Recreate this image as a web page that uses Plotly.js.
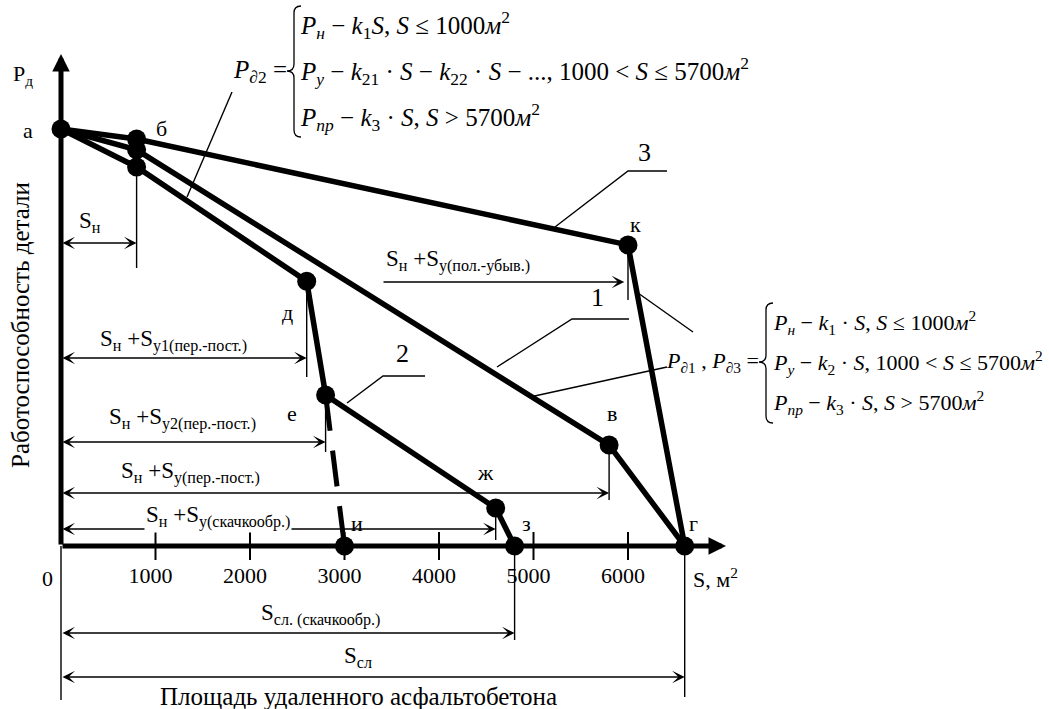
<!DOCTYPE html>
<html><head><meta charset="utf-8">
<script src="https://cdn.plot.ly/plotly-3.0.1.min.js"></script>
<style>html,body{margin:0;padding:0;background:#fff}#chart{width:1049px;height:709px}</style>
</head><body><div id="chart"></div>
<script>
// ---------- data (S in m², P in % of initial workability) ----------
const sTicks = [1000, 2000, 3000, 4000, 5000, 6000];
const line1S = [0, 800, 5800, 6600];
const line1P = [100, 95.0, 24.2, 0];
const line2S = [0, 800, 2600, 2800, 4600, 4800];
const line2P = [100, 90.9, 63.5, 36.2, 9.1, 0];
const line3S = [0, 800, 6000, 6600];
const line3P = [100, 97.6, 72.2, 0];
const jumpS = [2800, 3000];
const jumpP = [36.2, 0];
const pointNames = ['а', 'б', 'к', 'д', 'е', 'в', 'ж', 'з', 'и', 'г'];
const pointS = [0, 800, 6000, 2600, 2800, 5800, 4600, 4800, 3000, 6600];
const pointP = [100, 97.6, 72.2, 63.5, 36.2, 24.2, 9.1, 0, 0, 0];
const bendS = [800, 800];
const bendP = [95.0, 90.9];

// ---------- layout helpers (pixel -> axis units) ----------
const W = 1049, H = 709, X0 = 61, KX = 0.0945, Y0 = 546, KY = 4.17;
const fx = px => (px - X0) / KX;
const fy = py => (Y0 - py) / KY;
const FONT = 'Liberation Serif';
const TXT = 22;
const LBL = 23;

function pathPx(pts) {
  return pts.map((p, i) => (i ? 'L' : 'M') + fx(p[0]) + ',' + fy(p[1])).join(' ');
}
function bracePx(bx, yt, ym, yb, w) {
  const P = (x, y) => fx(x) + ',' + fy(y);
  return 'M' + P(bx + w, yt) + ' Q' + P(bx, yt) + ' ' + P(bx, yt + w) +
    ' L' + P(bx, ym - w) + ' Q' + P(bx, ym) + ' ' + P(bx - w, ym) +
    ' Q' + P(bx, ym) + ' ' + P(bx, ym + w) +
    ' L' + P(bx, yb - w) + ' Q' + P(bx, yb) + ' ' + P(bx + w, yb);
}
const thin = {color: 'black', width: 1.4};

// ---------- traces ----------
const thick = {color: 'black', width: 5.5};
const traces = [
  {x: line3S, y: line3P, mode: 'lines', line: thick, hoverinfo: 'skip'},
  {x: line1S, y: line1P, mode: 'lines', line: thick, hoverinfo: 'skip'},
  {x: line2S, y: line2P, mode: 'lines', line: thick, hoverinfo: 'skip'},
  {x: jumpS, y: jumpP, mode: 'lines', line: {color: 'black', width: 5, dash: '36px,20px'}, hoverinfo: 'skip'},
  {x: sTicks, y: sTicks.map(() => 0), mode: 'markers', hoverinfo: 'skip',
   marker: {symbol: 'line-ns', size: 20, line: {width: 2, color: 'black'}}},
  {x: pointS, y: pointP, text: pointNames, mode: 'markers', hoverinfo: 'text',
   marker: {size: 19, color: 'black'}},
  {x: bendS, y: bendP, mode: 'markers', hoverinfo: 'skip', marker: {size: 19, color: 'black'}}
];

// ---------- shapes ----------
const shapes = [];
function vline(x, y1, y2) { shapes.push({type: 'line', xref: 'x', yref: 'y', x0: x, x1: x, y0: y1, y1: y2, line: thin}); }
vline(bendS[1], bendP[1], fy(268));
vline(line3S[2], line3P[2], fy(300));
vline(line2S[2], line2P[2], fy(377));
vline(line2S[3], line2P[3], fy(452));
vline(line1S[2], line1P[2], fy(500));
vline(line2S[4], line2P[4], fy(540));
vline(line2S[5], 0, fy(640));
vline(line1S[3], 0, fy(697));
vline(0, 0, fy(700));
// leader lines
[
  [[187, 197], [232, 92]],
  [[555, 227], [628, 171], [667, 171]],
  [[497, 367], [572, 319], [629, 319]],
  [[347, 403], [383, 376], [425, 376]],
  [[530, 397], [667, 367]],
  [[638, 293], [693, 332]]
].forEach(p => shapes.push({type: 'path', xref: 'x', yref: 'y', path: pathPx(p), line: thin}));
// braces
shapes.push({type: 'path', xref: 'x', yref: 'y', path: bracePx(294, 6, 71, 137, 7), line: {color: 'black', width: 1.3}});
shapes.push({type: 'path', xref: 'x', yref: 'y', path: bracePx(766, 303, 362, 423, 7), line: {color: 'black', width: 1.3}});

// ---------- annotations ----------
const ann = [];
function txt(text, px, py, o) {
  ann.push(Object.assign({xref: 'x', yref: 'y', x: fx(px), y: fy(py), text: text, showarrow: false,
    font: {family: FONT, size: LBL, color: 'black'}, xanchor: 'center', yanchor: 'middle'}, o || {}));
}
// axes with arrowheads
ann.push({xref: 'x', yref: 'y', axref: 'x', ayref: 'y', x: fx(726), y: 0, ax: 0, ay: 0, text: '',
  showarrow: true, arrowhead: 2, arrowsize: 0.7, arrowwidth: 5, arrowcolor: 'black'});
ann.push({xref: 'x', yref: 'y', axref: 'x', ayref: 'y', x: 0, y: fy(54), ax: 0, ay: 0, text: '',
  showarrow: true, arrowhead: 2, arrowsize: 0.7, arrowwidth: 5, arrowcolor: 'black'});
// dimension arrows
function dim(xa, xb, py, both) {
  ann.push({xref: 'x', yref: 'y', axref: 'x', ayref: 'y', x: xb, y: fy(py), ax: xa, ay: fy(py), text: '',
    showarrow: true, arrowside: both ? 'end+start' : 'end', arrowhead: 3, startarrowhead: 3,
    arrowsize: 1.4, startarrowsize: 1.4, arrowwidth: 1.5, arrowcolor: 'black'});
}
dim(0, bendS[0], 243, true);
dim(fx(382), line3S[2] - 40, 282, false);
dim(0, line2S[2], 358, true);
dim(0, line2S[3], 442, true);
dim(0, line1S[2], 493, true);
dim(0, line2S[4], 529, true);
dim(0, line2S[5], 633, true);
dim(0, line1S[3], 677, true);

// point letters (offsets in px from the point)
const offs = [[-33, 1], [25, -11], [7, -20], [-19, 31], [-34, 18], [3, -32], [-10, -36], [12, -23], [12, -23], [9, -23]];
pointNames.forEach((n, i) => ann.push({xref: 'x', yref: 'y', x: pointS[i], y: pointP[i], text: n, showarrow: false,
  xshift: offs[i][0], yshift: -offs[i][1], font: {family: FONT, size: TXT, color: 'black'}}));

txt('P<sub>д</sub>', 23, 75, {font: {family: FONT, size: TXT, color: 'black'}});
txt('0', 47, 578, {font: {family: FONT, size: TXT, color: 'black'}});
txt('S, м<sup>2</sup>', 691, 578, {xanchor: 'left', font: {family: FONT, size: TXT, color: 'black'}});
txt('S<sub>н</sub>', 90, 222);
txt('S<sub>н</sub> +S<sub>у(пол.-убыв.)</sub>', 458, 260);
txt('S<sub>н</sub> +S<sub>у1(пер.-пост.)</sub>', 173, 340);
txt('S<sub>н</sub> +S<sub>у2(пер.-пост.)</sub>', 182, 418);
txt('S<sub>н</sub> +S<sub>у(пер.-пост.)</sub>', 190, 472);
txt('S<sub>н</sub> +S<sub>у(скачкообр.)</sub>', 218, 516, {bgcolor: 'white'});
txt('S<sub>сл. (скачкообр.)</sub>', 320, 614);
txt('S<sub>сл</sub>', 358, 657);
txt('Площадь удаленного асфальтобетона', 358, 696, {font: {family: FONT, size: 25, color: 'black'}});
txt('Работоспособность детали', 20, 325, {textangle: -90, font: {family: FONT, size: 25, color: 'black'}});
txt('1', 597, 297, {font: {family: FONT, size: 26, color: 'black'}});
txt('2', 402, 353, {font: {family: FONT, size: 26, color: 'black'}});
txt('3', 644, 152, {font: {family: FONT, size: 26, color: 'black'}});

// formulas
const FT = {family: FONT, size: 25, color: 'black'};
const FR = {family: FONT, size: 22, color: 'black'};
txt('<i>P</i><sub><i>∂</i>2</sub> =', 289, 71, {xanchor: 'right', font: FT});
txt('<i>P</i><sub><i>н</i></sub> − <i>k</i><sub>1</sub><i>S</i>, <i>S</i> ≤ 1000<i>м</i><sup>2</sup>', 298, 25, {xanchor: 'left', font: FT});
txt('<i>P</i><sub><i>у</i></sub> − <i>k</i><sub>21</sub> · <i>S</i> − <i>k</i><sub>22</sub> · <i>S</i> − ..., 1000 &lt; <i>S</i> ≤ 5700<i>м</i><sup>2</sup>', 298, 71, {xanchor: 'left', font: FT});
txt('<i>P</i><sub><i>пр</i></sub> − <i>k</i><sub>3</sub> · <i>S</i>, <i>S</i> &gt; 5700<i>м</i><sup>2</sup>', 298, 117, {xanchor: 'left', font: FT});

txt('<i>P</i><sub><i>∂</i>1</sub> , <i>P</i><sub><i>∂</i>3</sub> =', 761, 362, {xanchor: 'right', font: FR});
txt('<i>P</i><sub><i>н</i></sub> − <i>k</i><sub>1</sub> · <i>S</i>, <i>S</i> ≤ 1000<i>м</i><sup>2</sup>', 771, 322, {xanchor: 'left', font: FR});
txt('<i>P</i><sub><i>у</i></sub> − <i>k</i><sub>2</sub> · <i>S</i>, 1000 &lt; <i>S</i> ≤ 5700<i>м</i><sup>2</sup>', 771, 362, {xanchor: 'left', font: FR});
txt('<i>P</i><sub><i>пр</i></sub> − <i>k</i><sub>3</sub> · <i>S</i>, <i>S</i> &gt; 5700<i>м</i><sup>2</sup>', 771, 402, {xanchor: 'left', font: FR});

const layout = {
  width: W, height: H, margin: {l: 0, r: 0, t: 0, b: 0},
  paper_bgcolor: 'white', plot_bgcolor: 'white', showlegend: false,
  font: {family: FONT, size: TXT, color: 'black'},
  xaxis: {range: [fx(0), fx(W)], domain: [0, 1], showgrid: false, zeroline: false, showline: false,
    tickvals: sTicks, ticktext: sTicks.map(String), ticks: '', anchor: 'free', position: 1 - Y0 / H,
    ticklabelstandoff: 14, ticklabelshift: -5,
    tickfont: {family: FONT, size: TXT, color: 'black'}, fixedrange: true},
  yaxis: {range: [fy(H), fy(0)], domain: [0, 1], visible: false, fixedrange: true},
  shapes: shapes, annotations: ann
};
Plotly.newPlot('chart', traces, layout, {staticPlot: true});
</script></body></html>
